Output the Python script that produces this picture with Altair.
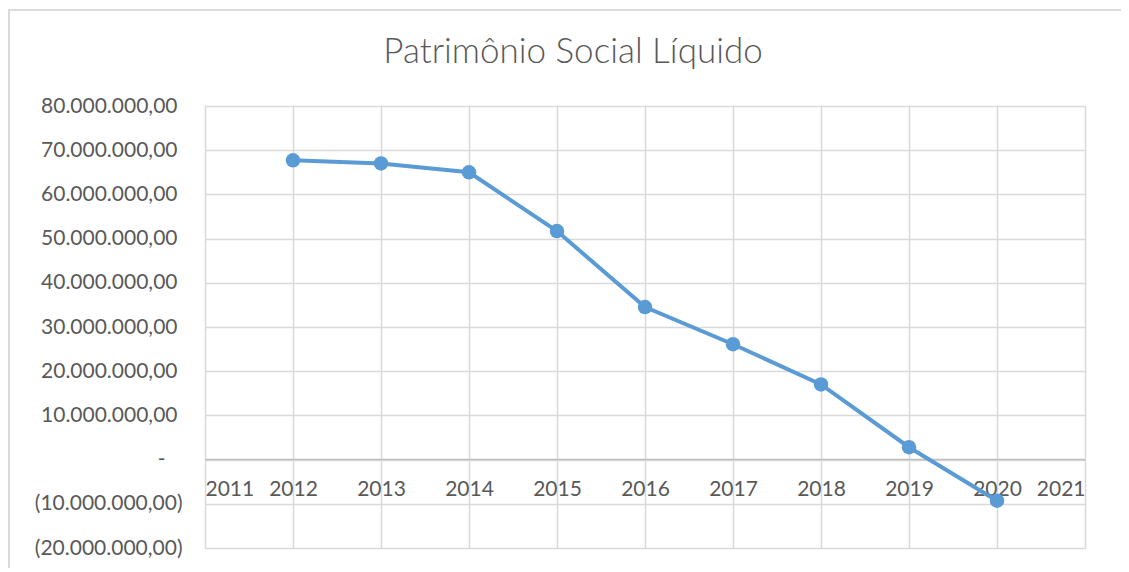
import altair as alt
import pandas as pd

years = [2012, 2013, 2014, 2015, 2016, 2017, 2018, 2019, 2020]
values = [67700000, 67000000, 65000000, 51700000, 34500000, 26100000, 17000000, 2800000, -9300000]

x_ticks = [2011, 2012, 2013, 2014, 2015, 2016, 2017, 2018, 2019, 2020, 2021]
y_ticks = [-20000000, -10000000, 0, 10000000, 20000000, 30000000, 40000000,
           50000000, 60000000, 70000000, 80000000]
y_labels = ["(20.000.000,00)", "(10.000.000,00)", "-",
            "10.000.000,00", "20.000.000,00", "30.000.000,00",
            "40.000.000,00", "50.000.000,00", "60.000.000,00",
            "70.000.000,00", "80.000.000,00"]

title_text = "Patrimônio Social Líquido"

df = pd.DataFrame({"ano": years, "valor": values})

# build label expression from the tick arrays
expr = "''"
for v, lab in zip(reversed(y_ticks), reversed(y_labels)):
    expr = f"datum.value == {v} ? '{lab}' : ({expr})"

FONT = "Lato"
GRAY = "#595959"
GRID = "#d9d9d9"
BLUE = "#5b9bd5"

y_label_padding = {
    "condition": [
        {"test": "datum.value == 0", "value": 40},
        {"test": "datum.value < 0", "value": 23},
    ],
    "value": 28,
}

base = alt.Chart(df)

line = base.mark_line(color=BLUE, strokeWidth=4).encode(
    x=alt.X("ano:Q",
            scale=alt.Scale(domain=[2011, 2021], nice=False, zero=False),
            axis=alt.Axis(values=x_ticks, format="d", title=None, grid=True,
                          gridColor=GRID, gridWidth=1.5, ticks=False,
                          domain=True, domainColor="#bfbfbf", domainWidth=1.5,
                          offset=-89, labelPadding=19, labelFont=FONT,
                          labelFontSize=21, labelColor=GRAY)),
    y=alt.Y("valor:Q",
            scale=alt.Scale(domain=[-20000000, 80000000], nice=False),
            axis=alt.Axis(values=y_ticks, labelExpr=expr, title=None, grid=True,
                          gridColor=GRID, gridWidth=1.5, ticks=False, domain=False,
                          labelPadding=y_label_padding, labelFont=FONT,
                          labelFontSize=21, labelColor=GRAY)),
)

points = base.mark_circle(color=BLUE, size=210, opacity=1).encode(
    x="ano:Q", y="valor:Q"
)

# light outer frame: only the top and left edges of the chart area are visible
one = pd.DataFrame({"k": [0]})
frame_top = alt.Chart(one).mark_rule(
    color="#d9d9d9", strokeWidth=2, clip=False
).encode(x=alt.value(-197), x2=alt.value(916), y=alt.value(-96))
frame_left = alt.Chart(one).mark_rule(
    color="#d9d9d9", strokeWidth=2, clip=False
).encode(x=alt.value(-196), y=alt.value(-97), y2=alt.value(462))

chart = alt.layer(frame_top, frame_left, line, points).properties(
    width=880,
    height=442,
    autosize=alt.AutoSizeParams(type="none"),
    padding={"left": 197, "top": 98, "right": 36, "bottom": 20},
    title=alt.TitleParams(title_text, font=FONT, fontSize=35, fontWeight=300,
                          color=GRAY, anchor="middle", dx=-72, offset=-62),
).configure_view(stroke=None).configure(background="white")

chart.save("out.html", embed_options={"renderer": "svg", "actions": False})
